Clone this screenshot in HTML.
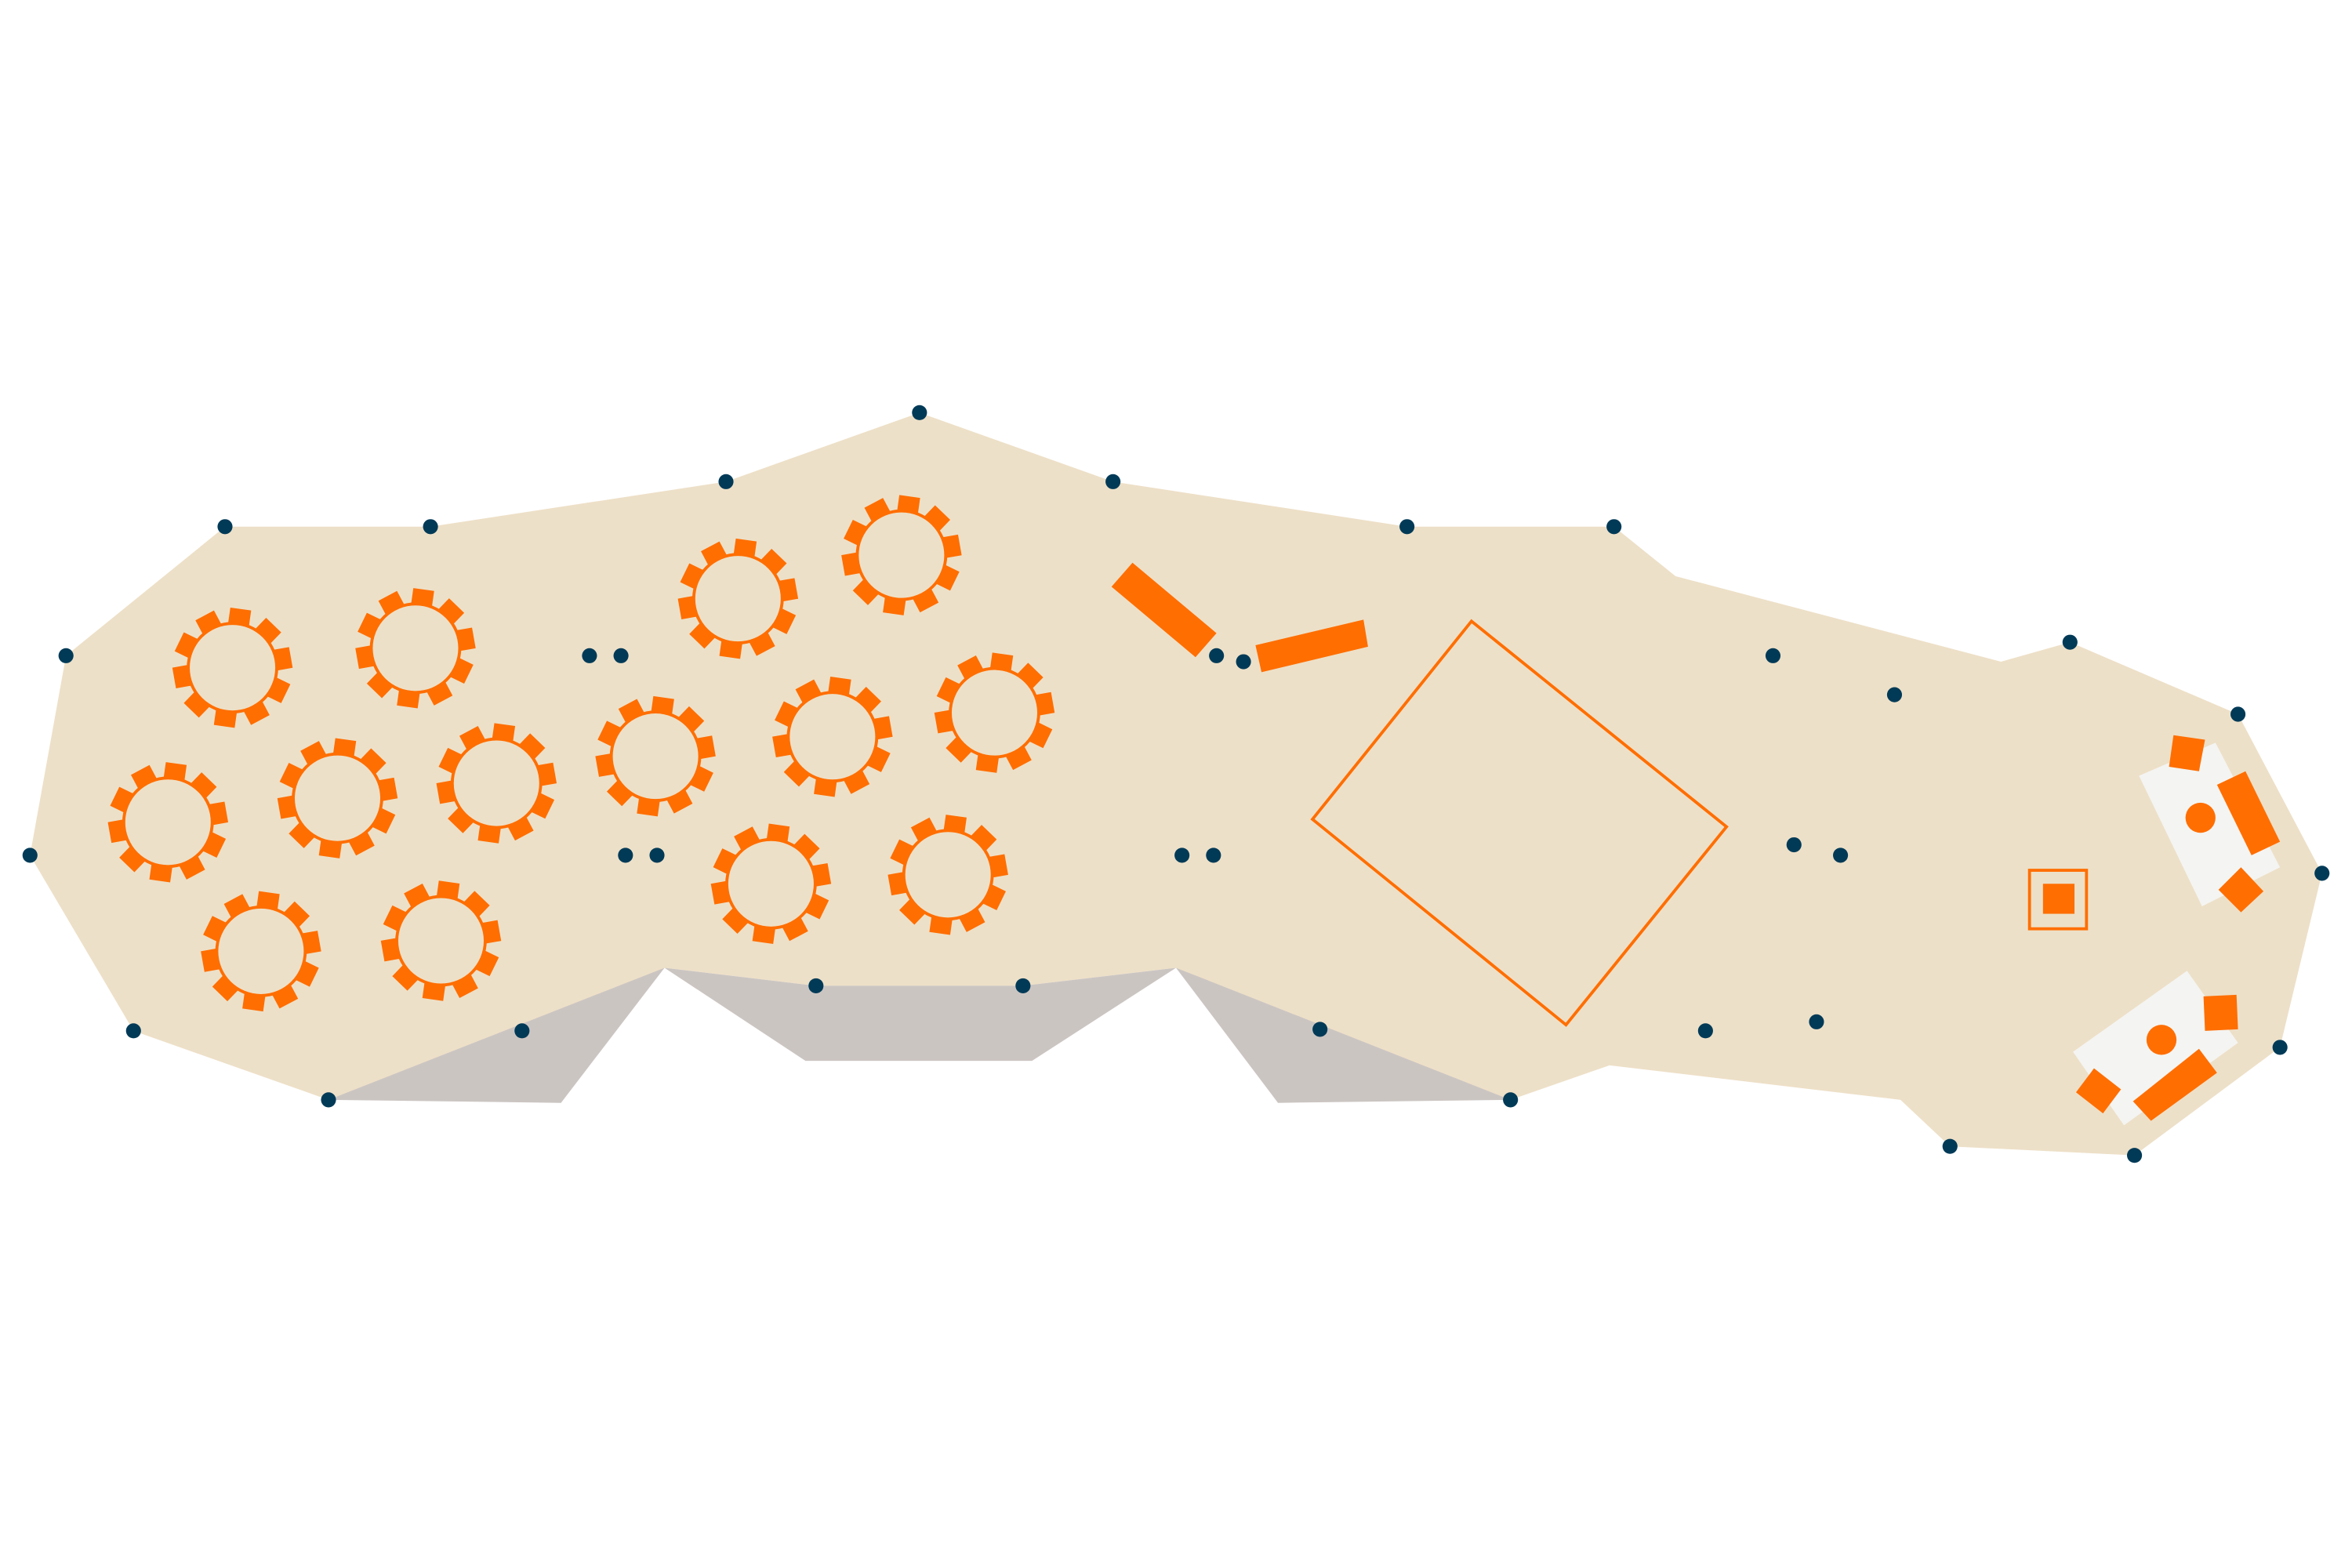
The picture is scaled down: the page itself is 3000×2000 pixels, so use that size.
<!DOCTYPE html>
<html><head><style>html,body{margin:0;padding:0;background:#fff}svg{display:block}</style></head>
<body>
<svg width="3000" height="2000" viewBox="0 0 1568 1045" preserveAspectRatio="none" xmlns="http://www.w3.org/2000/svg">
<defs>
<g id="t">
<g fill="#FF6E00">
<rect x="-7" y="-39.5" width="14" height="10" transform="rotate(8)"/>
<rect x="-7" y="-39.5" width="14" height="10" transform="rotate(44)"/>
<rect x="-7" y="-39.5" width="14" height="10" transform="rotate(80)"/>
<rect x="-7" y="-39.5" width="14" height="10" transform="rotate(116)"/>
<rect x="-7" y="-39.5" width="14" height="10" transform="rotate(152)"/>
<rect x="-7" y="-39.5" width="14" height="10" transform="rotate(188)"/>
<rect x="-7" y="-39.5" width="14" height="10" transform="rotate(224)"/>
<rect x="-7" y="-39.5" width="14" height="10" transform="rotate(260)"/>
<rect x="-7" y="-39.5" width="14" height="10" transform="rotate(296)"/>
<rect x="-7" y="-39.5" width="14" height="10" transform="rotate(332)"/>
</g>
<circle r="30.5" fill="#FF6E00"/>
<circle r="28.5" fill="#EDE0C8"/>
</g>
</defs>
<polygon fill="#EDE0C8" points="150,351 287,351 484,321 613,275 742,321 938,351 1076,351 1117,384 1334,441 1380,428 1492,476 1548,582 1520,698 1423,770 1300,764 1267,733 1073,710 1007,733 880,686 784,645 682,657 544,657 443,645 348,687 219,733 89,687 20,570 44,437"/>
<g fill="#CBC5C2">
<polygon points="219,733 443,645 374,735"/>
<polygon points="443,645 544,657 682,657 784,645 688,707 537,707"/>
<polygon points="784,645 1007,733 852,735"/>
</g>
<use href="#t" x="155" y="445"/>
<use href="#t" x="277" y="432"/>
<use href="#t" x="112" y="548"/>
<use href="#t" x="225" y="532"/>
<use href="#t" x="331" y="522"/>
<use href="#t" x="174" y="634"/>
<use href="#t" x="294" y="627"/>
<use href="#t" x="492" y="399"/>
<use href="#t" x="601" y="370"/>
<use href="#t" x="437" y="504"/>
<use href="#t" x="555" y="491"/>
<use href="#t" x="663" y="475"/>
<use href="#t" x="514" y="589"/>
<use href="#t" x="632" y="583"/>
<polygon points="981,414 1151,551 1044,683 875,546" fill="none" stroke="#FF6E00" stroke-width="2"/>
<g fill="#FF6E00">
<polygon points="741,391 755,375 811,422 797,438"/>
<polygon points="837,430 909,413 912,431 841,448"/>
</g>
<rect x="1353" y="580" width="38" height="39" fill="none" stroke="#FF6E00" stroke-width="2"/>
<rect x="1362" y="589" width="21" height="20" fill="#FF6E00"/>
<polygon points="1426,517 1477,495 1520,578 1468,604" fill="#F4F4F2"/>
<polygon points="1382,701 1458,647 1492,695 1416,750" fill="#F4F4F2"/>
<g fill="#FF6E00">
<polygon points="1449,490 1470,493 1466,514 1446,511"/>
<polygon points="1478,523 1497,514 1520,561 1501,570"/>
<polygon points="1479,593 1494,578 1509,594 1494,608"/>
<circle cx="1467" cy="545" r="10"/>
<polygon points="1469,664 1491,663 1492,686 1470,687"/>
<polygon points="1422,734 1466,699 1478,715 1434,747"/>
<polygon points="1384,728 1396,712 1414,726 1402,742"/>
<circle cx="1441" cy="693" r="10"/>
</g>
<g fill="#003A57">
<circle cx="150" cy="351" r="5"/><circle cx="287" cy="351" r="5"/><circle cx="484" cy="321" r="5"/>
<circle cx="613" cy="275" r="5"/><circle cx="742" cy="321" r="5"/><circle cx="938" cy="351" r="5"/>
<circle cx="1076" cy="351" r="5"/><circle cx="44" cy="437" r="5"/><circle cx="20" cy="570" r="5"/>
<circle cx="89" cy="687" r="5"/><circle cx="219" cy="733" r="5"/><circle cx="348" cy="687" r="5"/>
<circle cx="544" cy="657" r="5"/><circle cx="682" cy="657" r="5"/><circle cx="880" cy="686" r="5"/>
<circle cx="1007" cy="733" r="5"/><circle cx="1137" cy="687" r="5"/><circle cx="1211" cy="681" r="5"/>
<circle cx="1300" cy="764" r="5"/><circle cx="1423" cy="770" r="5"/><circle cx="1520" cy="698" r="5"/>
<circle cx="1548" cy="582" r="5"/><circle cx="1492" cy="476" r="5"/><circle cx="1380" cy="428" r="5"/>
<circle cx="1263" cy="463" r="5"/><circle cx="1182" cy="437" r="5"/><circle cx="1196" cy="563" r="5"/>
<circle cx="1227" cy="570" r="5"/><circle cx="393" cy="437" r="5"/><circle cx="414" cy="437" r="5"/>
<circle cx="417" cy="570" r="5"/><circle cx="438" cy="570" r="5"/><circle cx="788" cy="570" r="5"/>
<circle cx="809" cy="570" r="5"/><circle cx="811" cy="437" r="5"/><circle cx="829" cy="441" r="5"/>
</g>
</svg>
</body></html>
